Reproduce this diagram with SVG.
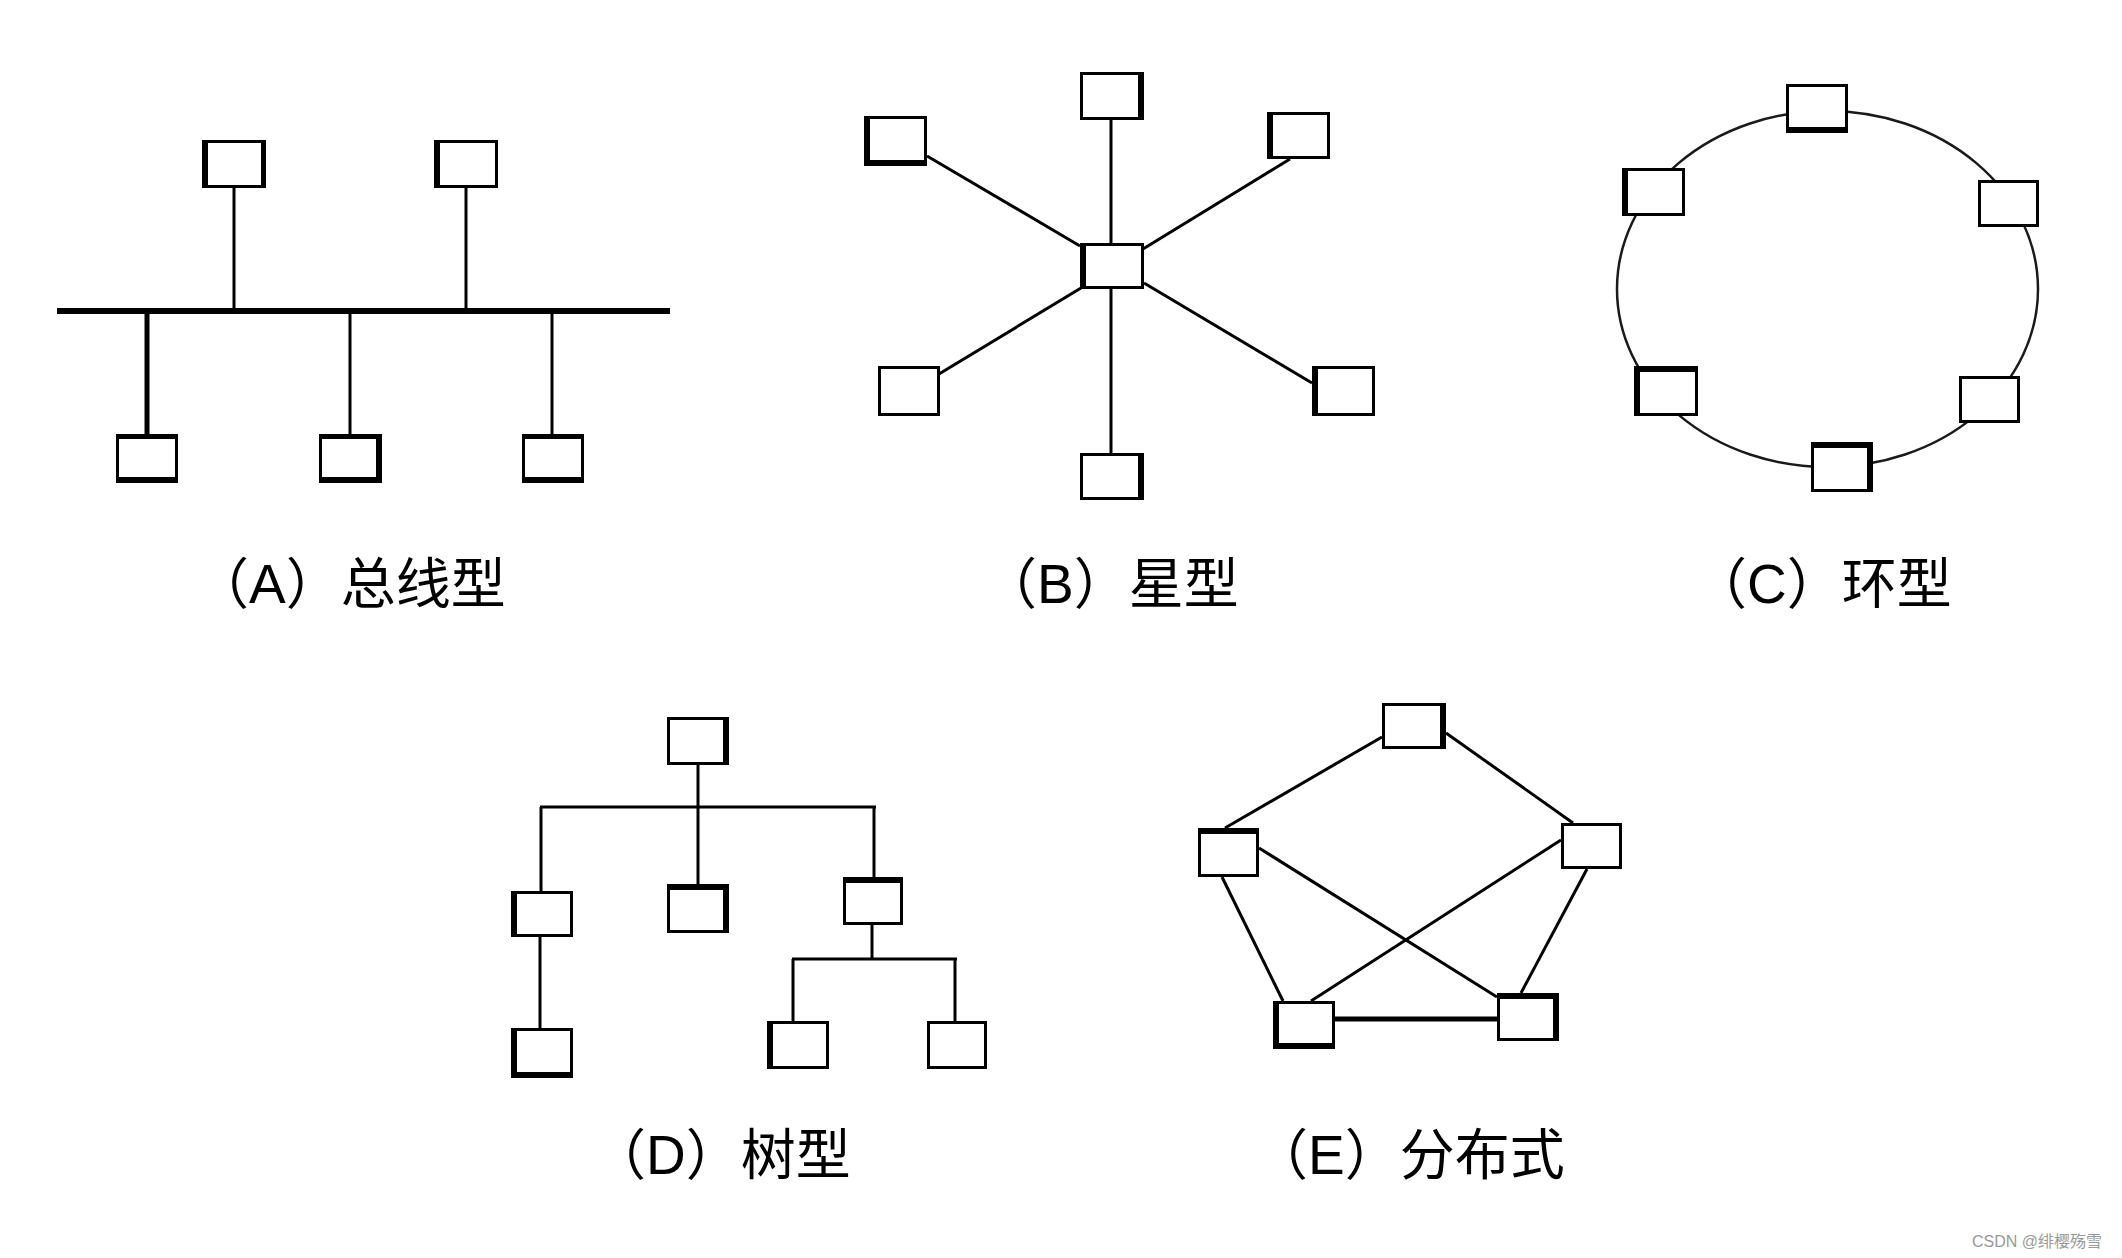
<svg xmlns="http://www.w3.org/2000/svg" width="2122" height="1258" viewBox="0 0 2122 1258">
<style>
.bg{fill:#fff}
.b{fill:#fff;stroke:#000;stroke-width:3}
.t{fill:#000}
.ln{stroke:#000;stroke-width:3;fill:none;stroke-linecap:butt}
.ring{stroke:#1a1a1a;stroke-width:2.5;fill:none}
.lbl{font-family:"Liberation Sans","Noto Sans CJK SC",sans-serif;font-size:55px;fill:#000}
.wm{font-family:"Liberation Sans","Noto Sans CJK SC",sans-serif;font-size:16px;fill:#999}
</style>
<rect class="bg" x="0" y="0" width="2122" height="1258"/>

<g id="connectors">
  <!-- bus -->
  <line class="ln" x1="57" y1="311" x2="670" y2="311" style="stroke-width:6"/>
  <line class="ln" x1="234" y1="188" x2="234" y2="311"/>
  <line class="ln" x1="466" y1="188" x2="466" y2="311"/>
  <line class="ln" x1="147" y1="311" x2="147" y2="434" style="stroke-width:5"/>
  <line class="ln" x1="350" y1="311" x2="350" y2="434"/>
  <line class="ln" x1="552" y1="311" x2="552" y2="434"/>
  <!-- star -->
  <line class="ln" x1="1111" y1="120" x2="1111" y2="243"/>
  <line class="ln" x1="1111" y1="289" x2="1111" y2="453"/>
  <line class="ln" x1="927" y1="156" x2="1080" y2="246"/>
  <line class="ln" x1="1290" y1="159" x2="1143" y2="249"/>
  <line class="ln" x1="939" y1="374" x2="1081" y2="288"/>
  <line class="ln" x1="1144" y1="283" x2="1312" y2="383"/>
  <!-- ring -->
  <ellipse class="ring" cx="1827.5" cy="289" rx="210.5" ry="178"/>
  <!-- tree -->
  <line class="ln" x1="698" y1="765" x2="698" y2="807"/>
  <line class="ln" x1="540" y1="807" x2="876" y2="807"/>
  <line class="ln" x1="541" y1="807" x2="541" y2="891"/>
  <line class="ln" x1="698" y1="807" x2="698" y2="884"/>
  <line class="ln" x1="874" y1="807" x2="874" y2="877"/>
  <line class="ln" x1="872" y1="925" x2="872" y2="959"/>
  <line class="ln" x1="792" y1="959" x2="957" y2="959"/>
  <line class="ln" x1="793" y1="959" x2="793" y2="1021"/>
  <line class="ln" x1="955" y1="959" x2="955" y2="1021"/>
  <line class="ln" x1="540" y1="937" x2="540" y2="1028"/>
  <!-- distributed -->
  <line class="ln" x1="1225" y1="828" x2="1382" y2="737"/>
  <line class="ln" x1="1446" y1="733" x2="1573" y2="823"/>
  <line class="ln" x1="1259" y1="848" x2="1497" y2="997"/>
  <line class="ln" x1="1561" y1="840" x2="1311" y2="1001"/>
  <line class="ln" x1="1222" y1="877" x2="1283" y2="1001"/>
  <line class="ln" x1="1587" y1="869" x2="1521" y2="993"/>
  <line class="ln" x1="1335" y1="1019" x2="1497" y2="1019" style="stroke-width:5"/>
</g>

<!-- Bus nodes -->
<g id="bus-n1"><rect class="b" x="203.5" y="141.5" width="61" height="45"/><rect class="t" x="202" y="140" width="6" height="48"/><rect class="t" x="261" y="140" width="5" height="48"/></g>
<g id="bus-n2"><rect class="b" x="435.5" y="141.5" width="61" height="45"/><rect class="t" x="434" y="140" width="6" height="48"/></g>
<g id="bus-n3"><rect class="b" x="117.5" y="435.5" width="59" height="46"/><rect class="t" x="116" y="434" width="62" height="5"/><rect class="t" x="116" y="477" width="62" height="6"/></g>
<g id="bus-n4"><rect class="b" x="320.5" y="435.5" width="60" height="46"/><rect class="t" x="319" y="434" width="63" height="5"/><rect class="t" x="319" y="477" width="63" height="6"/><rect class="t" x="376" y="434" width="6" height="49"/></g>
<g id="bus-n5"><rect class="b" x="523.5" y="435.5" width="59" height="46"/><rect class="t" x="522" y="434" width="62" height="5"/><rect class="t" x="522" y="477" width="62" height="6"/></g>

<!-- Star nodes -->
<g id="star-center"><rect class="b" x="1081.5" y="244.5" width="61" height="43"/><rect class="t" x="1080" y="243" width="6" height="46"/></g>
<g id="star-top"><rect class="b" x="1081.5" y="73.5" width="61" height="45"/><rect class="t" x="1138" y="72" width="6" height="48"/></g>
<g id="star-tl"><rect class="b" x="865.5" y="117.5" width="60" height="47"/><rect class="t" x="864" y="116" width="6" height="50"/><rect class="t" x="864" y="160" width="63" height="6"/></g>
<g id="star-tr"><rect class="b" x="1268.5" y="113.5" width="60" height="44"/><rect class="t" x="1267" y="112" width="6" height="47"/></g>
<g id="star-bl"><rect class="b" x="879.5" y="367.5" width="59" height="47"/></g>
<g id="star-br"><rect class="b" x="1313.5" y="367.5" width="60" height="47"/><rect class="t" x="1312" y="366" width="6" height="50"/></g>
<g id="star-bottom"><rect class="b" x="1081.5" y="454.5" width="61" height="44"/><rect class="t" x="1138" y="453" width="6" height="47"/></g>

<!-- Ring nodes -->
<g id="ring-top"><rect class="b" x="1787.5" y="85.5" width="59" height="46"/><rect class="t" x="1786" y="127" width="62" height="6"/></g>
<g id="ring-lt"><rect class="b" x="1623.5" y="169.5" width="60" height="45"/><rect class="t" x="1622" y="168" width="6" height="48"/></g>
<g id="ring-rt"><rect class="b" x="1979.5" y="181.5" width="58" height="44"/></g>
<g id="ring-lb"><rect class="b" x="1635.5" y="367.5" width="61" height="47"/><rect class="t" x="1634" y="366" width="64" height="6"/><rect class="t" x="1634" y="366" width="6" height="50"/></g>
<g id="ring-rb"><rect class="b" x="1960.5" y="377.5" width="58" height="44"/></g>
<g id="ring-bottom"><rect class="b" x="1812.5" y="443.5" width="59" height="47"/><rect class="t" x="1811" y="442" width="62" height="6"/><rect class="t" x="1867" y="442" width="6" height="50"/></g>

<!-- Tree nodes -->
<g id="tree-root"><rect class="b" x="668.5" y="718.5" width="59" height="45"/><rect class="t" x="723" y="717" width="6" height="48"/></g>
<g id="tree-l"><rect class="b" x="512.5" y="892.5" width="59" height="43"/><rect class="t" x="511" y="891" width="6" height="46"/></g>
<g id="tree-m"><rect class="b" x="668.5" y="885.5" width="59" height="46"/><rect class="t" x="667" y="884" width="62" height="6"/><rect class="t" x="723" y="884" width="6" height="49"/></g>
<g id="tree-r"><rect class="b" x="844.5" y="878.5" width="57" height="45"/><rect class="t" x="843" y="877" width="60" height="6"/></g>
<g id="tree-ll"><rect class="b" x="512.5" y="1029.5" width="59" height="47"/><rect class="t" x="511" y="1028" width="6" height="50"/><rect class="t" x="511" y="1072" width="62" height="6"/></g>
<g id="tree-rl"><rect class="b" x="768.5" y="1022.5" width="59" height="45"/><rect class="t" x="767" y="1021" width="6" height="48"/></g>
<g id="tree-rr"><rect class="b" x="928.5" y="1022.5" width="57" height="45"/></g>

<!-- Distributed nodes -->
<g id="dist-top"><rect class="b" x="1383.5" y="704.5" width="61" height="43"/><rect class="t" x="1440" y="703" width="6" height="46"/></g>
<g id="dist-l"><rect class="b" x="1199.5" y="829.5" width="58" height="46"/><rect class="t" x="1198" y="828" width="61" height="6"/></g>
<g id="dist-r"><rect class="b" x="1562.5" y="824.5" width="58" height="43"/></g>
<g id="dist-bl"><rect class="b" x="1274.5" y="1002.5" width="59" height="45"/><rect class="t" x="1273" y="1001" width="6" height="48"/><rect class="t" x="1273" y="1043" width="62" height="6"/></g>
<g id="dist-br"><rect class="b" x="1498.5" y="994.5" width="59" height="45"/><rect class="t" x="1497" y="993" width="62" height="6"/><rect class="t" x="1553" y="993" width="6" height="48"/></g>

<!-- Labels -->
<g id="labels">
  <text class="lbl" x="194" y="603">（A）总线型</text>
  <text class="lbl" x="982" y="603">（B）星型</text>
  <text class="lbl" x="1692" y="603">（C）环型</text>
  <text class="lbl" x="591" y="1174">（D）树型</text>
  <text class="lbl" x="1253" y="1174">（E）分布式</text>
</g>
<text class="wm" x="1972" y="1247">CSDN @绯樱殇雪</text>
</svg>
